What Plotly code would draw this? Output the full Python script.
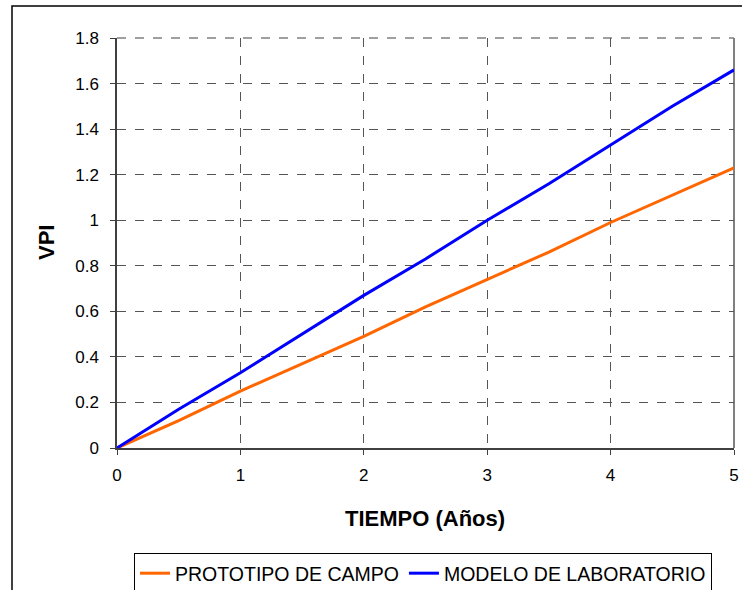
import plotly.graph_objects as go

tiempo = [0, 0.5, 1, 1.5, 2, 2.5, 3, 3.5, 4, 4.5, 5]
prototipo = [0, 0.12, 0.25, 0.37, 0.49, 0.62, 0.74, 0.86, 0.99, 1.11, 1.23]
modelo = [0, 0.17, 0.33, 0.5, 0.67, 0.83, 1.0, 1.16, 1.33, 1.5, 1.66]
x_ticks = [0, 1, 2, 3, 4, 5]
y_ticks = [0, 0.2, 0.4, 0.6, 0.8, 1, 1.2, 1.4, 1.6, 1.8]
y_labels = ["0", "0.2", "0.4", "0.6", "0.8", "1", "1.2", "1.4", "1.6", "1.8"]

W, H = 742, 590
L, R, T, B = 117, 8, 38, 142
pw, ph = W - L - R, H - T - B


def px_x(x):
    return (x - L) / pw


def px_y(y):
    return ((T + ph) - y) / ph


fig = go.Figure()
fig.add_trace(go.Scatter(x=tiempo, y=prototipo, mode="lines", name="PROTOTIPO DE CAMPO",
                         line=dict(color="#FF6600", width=3)))
fig.add_trace(go.Scatter(x=tiempo, y=modelo, mode="lines", name="MODELO DE LABORATORIO",
                         line=dict(color="#0000FF", width=3)))

font = "Liberation Sans, Arial, sans-serif"
tickfont = dict(family=font, size=17, color="black")
fig.update_layout(
    template="none",
    width=W, height=H,
    margin=dict(l=L, r=R, t=T, b=B, autoexpand=False),
    paper_bgcolor="white", plot_bgcolor="white",
    font=dict(family=font, size=17, color="black"),
    showlegend=True,
    legend=dict(orientation="h", x=px_x(423), xanchor="center", y=px_y(553),
                yanchor="top", bordercolor="black", borderwidth=1, bgcolor="white",
                font=dict(family=font, size=19.5, color="black"),
                itemwidth=30, tracegroupgap=0),
    xaxis=dict(range=[0, 5], tickvals=x_ticks, ticktext=[str(v) for v in x_ticks],
               tickfont=tickfont,
               showgrid=True, gridcolor="#555555", griddash="dash", gridwidth=1,
               showline=True, linecolor="#404040", linewidth=1.5,
               ticks="outside", ticklen=5, tickcolor="#404040",
               ticklabelstandoff=6, ticklabeloverflow="allow",
               automargin=False, zeroline=False, fixedrange=True),
    yaxis=dict(range=[0, 1.8], tickvals=y_ticks, ticktext=y_labels,
               tickfont=tickfont,
               showgrid=True, gridcolor="#555555", griddash="dash", gridwidth=1,
               showline=True, linecolor="#404040", linewidth=1.5,
               ticks="outside", ticklen=5, tickcolor="#404040",
               ticklabelstandoff=8, ticklabeloverflow="allow",
               automargin=False, zeroline=False, fixedrange=True),
)

# plot frame: top dashed gray, right solid gray
fig.add_shape(type="line", xref="x domain", yref="y domain", x0=0, x1=1, y0=1, y1=1,
              line=dict(color="#808080", width=1.5, dash="dash"), layer="below")
fig.add_shape(type="line", xref="x domain", yref="y domain", x0=1, x1=1, y0=0, y1=1,
              line=dict(color="#808080", width=2), layer="below")
# outer chart border
fig.add_shape(type="rect", xref="paper", yref="paper",
              x0=px_x(12), x1=px_x(770), y0=px_y(620), y1=px_y(6),
              line=dict(color="black", width=1.5), fillcolor="rgba(0,0,0,0)", layer="below")

fig.add_annotation(text="<b>TIEMPO (Años)</b>", xref="paper", yref="paper",
                   x=px_x(425), y=px_y(518), showarrow=False,
                   font=dict(family=font, size=22, color="black"), xanchor="center", yanchor="middle")
fig.add_annotation(text="<b>VPI</b>", xref="paper", yref="paper",
                   x=px_x(46), y=px_y(243), showarrow=False, textangle=-90,
                   font=dict(family=font, size=22, color="black"), xanchor="center", yanchor="middle")

fig.write_html("out.html", config={"displayModeBar": False},
               post_script="document.body.style.margin='0';document.body.style.overflow='hidden';")
